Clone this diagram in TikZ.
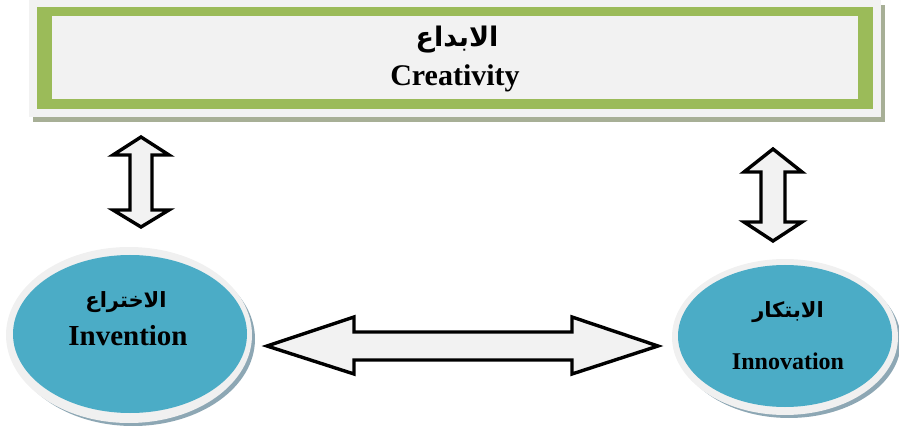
\documentclass[tikz,border=0pt]{standalone}
\usepackage{fontspec}
\setmainfont{Liberation Serif}
\newfontfamily\arabicfont[Script=Arabic]{DejaVu Sans}
\TeXXeTstate=1
\usetikzlibrary{shapes.geometric}
\definecolor{boxgrey}{HTML}{F2F2F2}
\definecolor{framegreen}{HTML}{9BBB59}
\definecolor{boxshadow}{HTML}{A7AF96}
\definecolor{ovalblue}{HTML}{4BACC6}
\definecolor{ovalshadow}{HTML}{8DA7B4}
\definecolor{ringgrey}{HTML}{F0F0F0}
\tikzset{
  oval/.style={ellipse, inner sep=0pt, fill=ovalblue},
  ring/.style={ellipse, inner sep=0pt, fill=ringgrey},
  shade/.style={ellipse, inner sep=0pt, fill=ovalshadow},
  blockarrow/.style={draw=black, fill=boxgrey, line width=3.4pt, line join=miter},
  lbl/.style={font=\bfseries, inner sep=0pt},
}
\begin{document}
\begin{tikzpicture}[x=1pt,y=-1pt]
\useasboundingbox (0,0) rectangle (899,427);
% top box
\fill[boxshadow] (33,5) rectangle (885,122);
\fill[boxgrey] (29,0) rectangle (881,117);
\fill[framegreen] (37,7) rectangle (873,109);
\fill[boxgrey] (52,16) rectangle (858,99);
\node[lbl, font=\arabicfont\bfseries\fontsize{27}{30}\selectfont] (crAr) at (457,40) {\beginR الابداع\endR};
\node[lbl, font=\bfseries\fontsize{30}{34}\selectfont] (cr) at (455,78) {Creativity};
% left oval
\node[shade, minimum width=244pt, minimum height=174pt] (invS) at (133,339) {};
\node[ring, minimum width=246pt, minimum height=176pt] (invR) at (129,335) {};
\node[oval, minimum width=234pt, minimum height=158pt] (inv) at (130,334) {};
\node[lbl, font=\arabicfont\bfseries\fontsize{21}{24}\selectfont] (invAr) at (126,302) {\beginR الاختراع\endR};
\node[lbl, font=\bfseries\fontsize{29}{33}\selectfont] (invEn) at (128,336) {Invention};
% right oval
\node[shade, minimum width=224pt, minimum height=154pt] (innS) at (789,341) {};
\node[ring, minimum width=226pt, minimum height=156pt] (innR) at (785,337) {};
\node[oval, minimum width=214pt, minimum height=142pt] (inn) at (785,336) {};
\node[lbl, font=\arabicfont\bfseries\fontsize{21}{24}\selectfont] (innAr) at (788,312) {\beginR الابتكار\endR};
\node[lbl, font=\bfseries\fontsize{24}{28}\selectfont] (innEn) at (788,361) {Innovation};
% left vertical double arrow
\draw[blockarrow] (141,137) -- (169,155) -- (152,155) -- (152,210) -- (169,210) -- (141,227)
  -- (113,210) -- (130,210) -- (130,155) -- (113,155) -- cycle;
% right vertical double arrow
\draw[blockarrow] (773,149) -- (802,172) -- (785,172) -- (785,222) -- (802,222) -- (773,241)
  -- (744,222) -- (761,222) -- (761,172) -- (744,172) -- cycle;
% horizontal double arrow
\draw[blockarrow] (267,346) -- (354,317) -- (354,332) -- (572,332) -- (572,317) -- (658,346)
  -- (572,374) -- (572,360) -- (354,360) -- (354,374) -- cycle;
\end{tikzpicture}
\end{document}
